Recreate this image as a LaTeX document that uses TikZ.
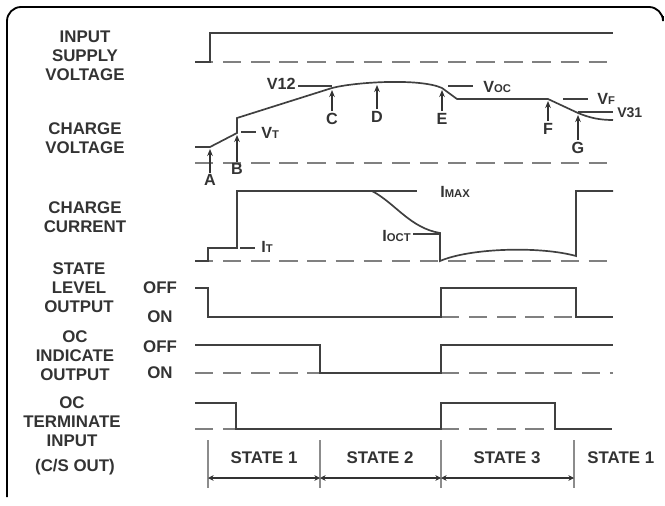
\documentclass[tikz,border=0pt]{standalone}
\usepackage{fontspec}
\setmainfont{Liberation Sans}
\usetikzlibrary{arrows.meta}

\newcommand{\sml}[1]{{\fontsize{8}{8}\selectfont #1}}

\tikzset{
	sig/.style={line width=1.2pt, draw=black!75},
	base/.style={line width=1.2pt, draw=black!50, dash pattern=on 13pt off 7pt},
	lbl/.style={font=\fontsize{12}{13.5}\selectfont\bfseries, align=center, inner sep=0pt, text=black!80},
	tag/.style={font=\fontsize{11.5}{12}\selectfont\bfseries, inner sep=0pt, text=black!80},
	ptr/.style={line width=1pt, draw=black!80, -{Stealth[length=5pt,width=4pt]}},
	span/.style={line width=1pt, draw=black!80, {Stealth[length=4pt,width=4pt]}-{Stealth[length=4pt,width=4pt]}}
}

\begin{document}
\begin{tikzpicture}[x=0.025cm, y=-0.025cm]
	\useasboundingbox (0,0) rectangle (665,506);
	% frame
	\draw[line width=1.3pt, rounded corners=10] (7,497) -- (7,7) -- (663,7) -- (663,16);

	% row labels
	\node[lbl] (lsupply) at (85,56) {INPUT\\SUPPLY\\VOLTAGE};
	\node[lbl] (lcvolt) at (85,138) {CHARGE\\VOLTAGE};
	\node[lbl] (lcurr) at (85,217) {CHARGE\\CURRENT};
	\node[lbl] (lstate) at (79,288) {STATE\\LEVEL\\OUTPUT};
	\node[lbl] (lind) at (75,356) {OC\\INDICATE\\OUTPUT};
	\node[lbl] (lterm) at (72,422) {OC\\TERMINATE\\INPUT};
	\node[lbl] (lcs) at (75,467) {(C/S OUT)};
	\node[lbl] (offa) at (160,288) {OFF};
	\node[lbl] (ona) at (160,317) {ON};
	\node[lbl] (offb) at (160,347) {OFF};
	\node[lbl] (onb) at (160,373) {ON};

	% input supply voltage
	\draw[base] (195,62) -- (613,62);
	\draw[sig] (195,62) -- (210,62) -- (210,33) -- (613,33);

	% charge voltage
	\draw[base] (195,163) -- (613,163);
	\draw[sig] (195,147) -- (210,147) -- (237,133) -- (237,118) -- (332,88)
		.. controls (355,82) and (420,78) .. (442,88) -- (457,99) -- (548,99) -- (578,113)
		.. controls (590,118) and (600,120) .. (613,120);
	\draw[sig] (241,132) -- (256,132);
	\draw[sig] (298,86) -- (332,86);
	\draw[sig] (448,86) -- (473,86);
	\draw[sig] (563,99) -- (588,99);
	\draw[sig] (578,112) -- (613,112);
	\node[tag, anchor=west] (vt) at (261,133) {V\sml{T}};
	\node[tag, anchor=east] (v12) at (296,84) {V12};
	\node[tag, anchor=west] (voc) at (483,87) {V\sml{OC}};
	\node[tag, anchor=west] (vf) at (597,99) {V\sml{F}};
	\node[tag, anchor=west] (v31) at (617,113) {\fontsize{10}{10}\selectfont V31};

	% marker points
	\node[tag] (ma) at (210,180) {A};
	\node[tag] (mb) at (237,169) {B};
	\node[tag] (mc) at (332,119) {C};
	\node[tag] (md) at (377,117) {D};
	\node[tag] (me) at (442,119) {E};
	\node[tag] (mf) at (548,129) {F};
	\node[tag] (mg) at (578,148) {G};
	\draw[ptr] (210,173) -- (210,149);
	\draw[ptr] (237,162) -- (237,135);
	\draw[ptr] (332,111) -- (332,90);
	\draw[ptr] (377,109) -- (377,85);
	\draw[ptr] (442,111) -- (442,90);
	\draw[ptr] (548,121) -- (548,101);
	\draw[ptr] (578,140) -- (578,115);

	% charge current
	\draw[base] (195,261) -- (613,261);
	\draw[sig] (195,261) -- (208,261) -- (208,248) -- (237,248) -- (237,191) -- (372,191)
		.. controls (395,203) and (410,228) .. (440,233) -- (440,261)
		.. controls (470,248) and (540,246) .. (576,256) -- (576,191) -- (613,191);
	\draw[sig] (372,191) -- (417,191);
	\draw[sig] (240,248) -- (255,248);
	\draw[sig] (413,234) -- (440,234);
	\node[tag, anchor=west] (imax) at (440,192) {I\sml{MAX}};
	\node[tag, anchor=east] (ioct) at (411,236) {I\sml{OCT}};
	\node[tag, anchor=west] (it) at (261,247) {I\sml{T}};

	% state level output
	\draw[base] (441,317) -- (576,317);
	\draw[sig] (195,288) -- (208,288) -- (208,317) -- (441,317) -- (441,288) -- (576,288) -- (576,317) -- (613,317);

	% oc indicate output
	\draw[base] (195,373) -- (320,373);
	\draw[base] (441,373) -- (613,373);
	\draw[sig] (195,345) -- (320,345) -- (320,373) -- (441,373) -- (441,345) -- (613,345);

	% oc terminate input
	\draw[base] (195,429) -- (236,429);
	\draw[base] (441,429) -- (555,429);
	\draw[sig] (195,403) -- (236,403) -- (236,429) -- (441,429) -- (441,403) -- (555,403) -- (555,429) -- (612,429);

	% states
	\foreach \x in {208,320,441,574}
		\draw[line width=0.8pt, draw=black!45] (\x,440) -- (\x,488);
	\draw[span] (208,478) -- (320,478);
	\draw[span] (320,478) -- (441,478);
	\draw[span] (441,478) -- (574,478);
	\node[lbl] (st1) at (264,458) {STATE 1};
	\node[lbl] (st2) at (380,458) {STATE 2};
	\node[lbl] (st3) at (507,458) {STATE 3};
	\node[lbl, anchor=west] (st4) at (587,458) {STATE 1};
\end{tikzpicture}
\end{document}
